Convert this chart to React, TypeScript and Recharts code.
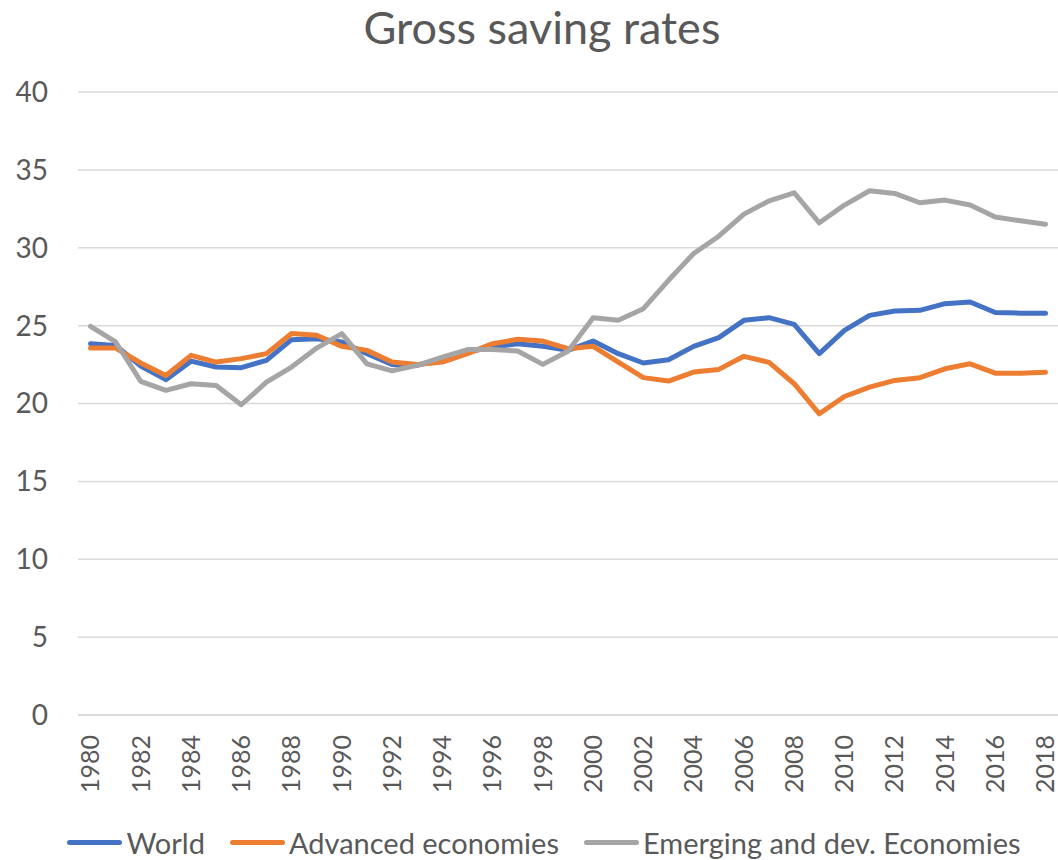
import { CartesianGrid, Legend, Line, LineChart, XAxis, YAxis } from 'recharts';

const BLUE = '#4472C4';
const ORANGE = '#ED7D31';
const GRAY = '#A5A5A5';
const TEXT = '#595959';
const GRID = '#D9D9D9';
const FONT = 'Lato, "Open Sans", sans-serif';

const YEARS = [
  1980, 1981, 1982, 1983, 1984, 1985, 1986, 1987, 1988, 1989, 1990, 1991, 1992,
  1993, 1994, 1995, 1996, 1997, 1998, 1999, 2000, 2001, 2002, 2003, 2004, 2005,
  2006, 2007, 2008, 2009, 2010, 2011, 2012, 2013, 2014, 2015, 2016, 2017, 2018,
];

const WORLD = [
  23.84, 23.73, 22.4, 21.53, 22.72, 22.34, 22.3, 22.77, 24.1, 24.16, 23.95, 23.2, 22.5,
  22.45, 22.88, 23.3, 23.62, 23.84, 23.67, 23.41, 24.01, 23.2, 22.6, 22.81, 23.67, 24.23,
  25.34, 25.51, 25.08, 23.2, 24.7, 25.66, 25.94, 25.98, 26.41, 26.52, 25.84, 25.8, 25.8,
];

const ADVANCED = [
  23.56, 23.56, 22.6, 21.8, 23.09, 22.66, 22.88, 23.2, 24.49, 24.38, 23.67, 23.41, 22.66,
  22.5, 22.66, 23.2, 23.84, 24.12, 24.01, 23.52, 23.67, 22.66, 21.66, 21.44, 22.02, 22.19,
  23.03, 22.64, 21.27, 19.34, 20.45, 21.05, 21.48, 21.66, 22.23, 22.55, 21.95, 21.95, 22.0,
];

const EMERGING = [
  24.95, 23.95, 21.42, 20.84, 21.27, 21.16, 19.92, 21.37, 22.34, 23.56, 24.49, 22.55, 22.1,
  22.45, 22.98, 23.46, 23.46, 23.37, 22.51, 23.35, 25.51, 25.34, 26.09, 27.91, 29.63, 30.74,
  32.16, 33.01, 33.53, 31.6, 32.74, 33.66, 33.49, 32.89, 33.06, 32.74, 31.98, 31.73, 31.51,
];

const Y_TICKS = [0, 5, 10, 15, 20, 25, 30, 35, 40];

const SERIES = [
  { key: 'world', name: 'World', color: BLUE },
  { key: 'advanced', name: 'Advanced economies', color: ORANGE },
  { key: 'emerging', name: 'Emerging and dev. Economies', color: GRAY },
];

const data = YEARS.map((year, i) => ({
  year: String(year),
  world: WORLD[i],
  advanced: ADVANCED[i],
  emerging: EMERGING[i],
}));

function YearTick({ x, y, payload }: any) {
  const ty = y + 12;
  return (
    <text
      x={x}
      y={ty}
      transform={`rotate(-90, ${x}, ${ty})`}
      textAnchor="end"
      dy="0.35em"
      fill={TEXT}
      fontSize={25}
      fontFamily={FONT}
    >
      {payload.value}
    </text>
  );
}

function LegendRow() {
  return (
    <div
      style={{
        display: 'flex',
        justifyContent: 'center',
        alignItems: 'center',
        fontFamily: FONT,
        fontSize: 29,
        color: TEXT,
        height: 36,
        paddingLeft: 30,
      }}
    >
      {SERIES.map((s, i) => (
        <span
          key={s.key}
          style={{ display: 'flex', alignItems: 'center', marginLeft: i === 0 ? 0 : 25 }}
        >
          <span
            style={{
              display: 'inline-block',
              width: 55,
              height: 5,
              borderRadius: 3,
              background: s.color,
              marginRight: 4,
            }}
          />
          {s.name}
        </span>
      ))}
    </div>
  );
}

export default function App() {
  return (
    <div style={{ position: 'absolute', left: 0, top: 0, width: 1058, height: 860, background: '#fff' }}>
      <div
        style={{
          position: 'absolute',
          top: 0,
          left: 26,
          width: 1032,
          textAlign: 'center',
          fontFamily: FONT,
          fontSize: 45,
          color: TEXT,
        }}
      >
        Gross saving rates
      </div>
      <LineChart
        width={1058}
        height={860}
        data={data}
        margin={{ top: 92, right: 0, bottom: 0, left: 0 }}
      >
        <CartesianGrid vertical={false} stroke={GRID} strokeWidth={1.5} />
        <XAxis
          dataKey="year"
          interval={1}
          height={109}
          tickLine={false}
          axisLine={{ stroke: GRID, strokeWidth: 1.5 }}
          padding={{ left: 12.5, right: 12.5 }}
          tick={<YearTick />}
        />
        <YAxis
          width={78}
          domain={[0, 40]}
          ticks={Y_TICKS}
          axisLine={false}
          tickLine={false}
          tickSize={0}
          tickMargin={30}
          tick={{ fill: TEXT, fontSize: 28, fontFamily: FONT }}
        />
        <Legend verticalAlign="bottom" height={36} content={<LegendRow />} />
        {SERIES.map((s) => (
          <Line
            key={s.key}
            type="linear"
            dataKey={s.key}
            name={s.name}
            stroke={s.color}
            strokeWidth={5}
            strokeLinecap="round"
            strokeLinejoin="round"
            dot={false}
            isAnimationActive={false}
          />
        ))}
      </LineChart>
    </div>
  );
}
